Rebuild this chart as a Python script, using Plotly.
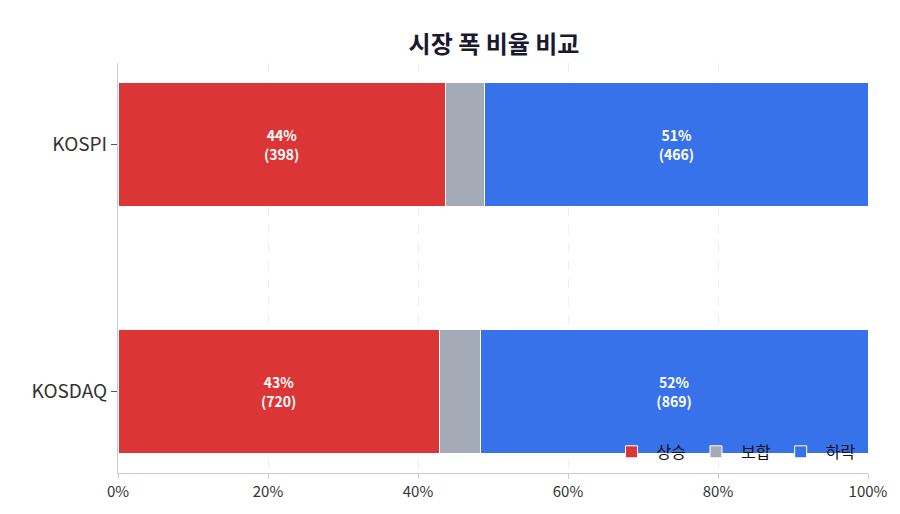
import plotly.graph_objects as go

markets = ["KOSPI", "KOSDAQ"]
up = [398, 720]
flat = [48, 91]
down = [466, 869]
names = ["상승", "보합", "하락"]
colors = ["#dc3535", "#a4abb6", "#3772eb"]

totals = [u + f + d for u, f, d in zip(up, flat, down)]
series = [up, flat, down]
fig = go.Figure()
for i, (nm, vals, c) in enumerate(zip(names, series, colors)):
    pct = [v / t * 100 for v, t in zip(vals, totals)]
    text = [f"<b>{p:.0f}%<br>({v})</b>" for p, v in zip(pct, vals)] if i != 1 else None
    fig.add_trace(go.Bar(
        y=markets, x=pct, name=nm, orientation="h",
        marker=dict(color=c, line=dict(color="white", width=1)),
        text=text, textposition="inside", insidetextanchor="middle",
        textfont=dict(color="white", size=14, family="Noto Sans CJK KR"),
        width=0.5, hoverinfo="skip"))

fig.update_layout(
    barmode="stack", width=900, height=514,
    paper_bgcolor="white", plot_bgcolor="white",
    font=dict(family="Noto Sans CJK KR", color="#333"),
    title=dict(text="<b>시장 폭 비율 비교</b>", x=0.54, xanchor="center", y=0.945,
               font=dict(size=24, color="#1a1a2e")),
    margin=dict(l=110, r=40, t=55, b=49),
    legend=dict(orientation="h", traceorder="normal", x=0.99, xanchor="right", y=0.01,
                yanchor="bottom", bgcolor="rgba(0,0,0,0)", font=dict(size=16, color="#111"),
                itemwidth=40),
    uniformtext=dict(minsize=8, mode="show"),
)
fig.update_xaxes(range=[0, 100], ticksuffix="%", dtick=20, showgrid=True,
                 gridcolor="#eee", griddash="dash", showline=True, linecolor="#ccc",
                 ticks="outside", tickcolor="#ccc", tickfont=dict(size=15), zeroline=False)
fig.update_yaxes(range=[1.33, -0.33], showline=True, linecolor="#ccc",
                 ticks="outside", tickcolor="#555", ticklen=6, tickfont=dict(size=19))
fig.write_html("out.html")
